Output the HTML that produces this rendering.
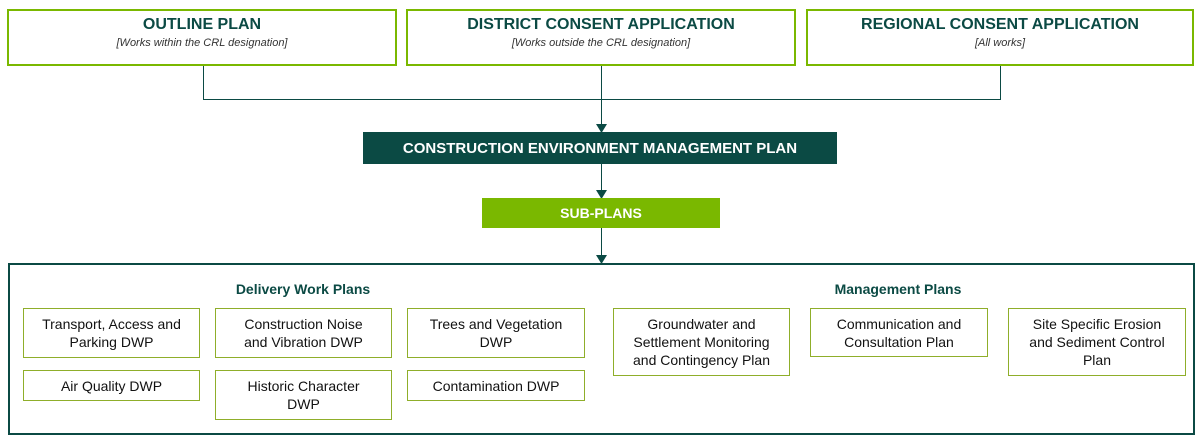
<!DOCTYPE html>
<html><head><style>
body{margin:0;width:1201px;height:439px;background:#fff;position:relative;font-family:"Liberation Sans",Arial,sans-serif;overflow:hidden}
.a{position:absolute;box-sizing:border-box}
.top{border:2px solid #7ab800;text-align:center;color:#0b4a44}
.top b{display:block;font-size:16px;margin-top:5px}
.top i{display:block;font-size:11px;color:#333;margin-top:3px}
.sm{border:1px solid #8fae2a;display:flex;align-items:center;justify-content:center;text-align:center;font-size:14px;line-height:18px;color:#111}
.h{font-weight:bold;font-size:14px;color:#0b4a44;text-align:center}
</style></head><body>
<div class="a top" style="left:7px;top:9px;width:390px;height:57px"><b>OUTLINE PLAN</b><i>[Works within the CRL designation]</i></div>
<div class="a top" style="left:406px;top:9px;width:390px;height:57px"><b>DISTRICT CONSENT APPLICATION</b><i>[Works outside the CRL designation]</i></div>
<div class="a top" style="left:806px;top:9px;width:388px;height:57px"><b>REGIONAL CONSENT APPLICATION</b><i>[All works]</i></div>
<svg class="a" style="left:0;top:0" width="1201" height="439">
<g stroke="#0b4a44" stroke-width="1" fill="none">
<path d="M203.5 66V99.5H1000.5V66M601.5 66V128M601.5 164V194M601.5 228V259"/>
</g>
<g fill="#0b4a44">
<path d="M596 124L601.5 133L607 124Z"/><path d="M596 190L601.5 199L607 190Z"/><path d="M596 255L601.5 264L607 255Z"/>
</g>
</svg>
<div class="a" style="left:363px;top:132px;width:474px;height:32px;background:#0b4a44;color:#fff;font-weight:bold;font-size:15px;display:flex;align-items:center;justify-content:center">CONSTRUCTION ENVIRONMENT MANAGEMENT PLAN</div>
<div class="a" style="left:482px;top:198px;width:238px;height:30px;background:#7ab800;color:#fff;font-weight:bold;font-size:14px;display:flex;align-items:center;justify-content:center">SUB-PLANS</div>
<div class="a" style="left:8px;top:263px;width:1187px;height:172px;border:2px solid #0b4a44"></div>
<div class="a h" style="left:203px;top:281px;width:200px">Delivery Work Plans</div>
<div class="a h" style="left:798px;top:281px;width:200px">Management Plans</div>
<div class="a sm" style="left:23px;top:308px;width:177px;height:50px">Transport, Access and<br>Parking DWP</div>
<div class="a sm" style="left:215px;top:308px;width:177px;height:50px">Construction Noise<br>and Vibration DWP</div>
<div class="a sm" style="left:407px;top:308px;width:178px;height:50px">Trees and Vegetation<br>DWP</div>
<div class="a sm" style="left:23px;top:370px;width:177px;height:31px">Air Quality DWP</div>
<div class="a sm" style="left:215px;top:370px;width:177px;height:50px">Historic Character<br>DWP</div>
<div class="a sm" style="left:407px;top:370px;width:178px;height:31px">Contamination DWP</div>
<div class="a sm" style="left:613px;top:308px;width:177px;height:68px">Groundwater and<br>Settlement Monitoring<br>and Contingency Plan</div>
<div class="a sm" style="left:810px;top:308px;width:178px;height:49px">Communication and<br>Consultation Plan</div>
<div class="a sm" style="left:1008px;top:308px;width:178px;height:68px">Site Specific Erosion<br>and Sediment Control<br>Plan</div>
</body></html>
